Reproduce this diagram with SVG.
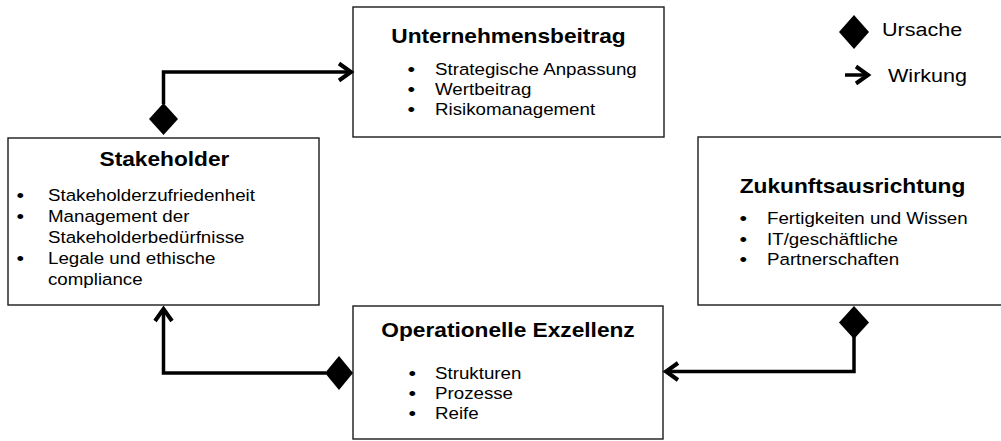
<svg xmlns="http://www.w3.org/2000/svg" width="1001" height="441" viewBox="0 0 1001 441">
  <style>
    .box { fill: #ffffff; stroke: #1a1a1a; stroke-width: 1.4; }
    .title { font-family: "Liberation Sans", Arial, sans-serif; font-size: 20px; font-weight: bold; fill: #000; text-anchor: middle; }
    .item { font-family: "Liberation Sans", Arial, sans-serif; font-size: 16.5px; fill: #000; }
    .dot { font-family: "Liberation Sans", Arial, sans-serif; font-size: 19px; fill: #000; }
    .legend { font-family: "Liberation Sans", Arial, sans-serif; font-size: 19px; fill: #000; }
    .wire { fill: none; stroke: #000; stroke-width: 3.5; stroke-linejoin: miter; }
    .cause { fill: #000; stroke: none; }
  </style>
  <defs>
    <marker id="effect" markerUnits="userSpaceOnUse" markerWidth="24" markerHeight="24" refX="0" refY="0" viewBox="-14 -12 16 24" orient="auto" overflow="visible">
      <path d="M-12,-8.5 L0,0 L-12,8.5" fill="none" stroke="#000" stroke-width="4"/>
    </marker>
  </defs>

  <rect width="1001" height="441" fill="#ffffff"/>

  <!-- Unternehmensbeitrag -->
  <g id="unternehmensbeitrag">
    <rect class="box" x="353" y="7" width="311" height="130"/>
    <g transform="scale(1.135 1)">
      <text class="title" x="448" y="43">Unternehmensbeitrag</text>
      <text class="dot" x="359" y="76">•</text>
      <text class="item" x="383.3" y="75">Strategische Anpassung</text>
      <text class="dot" x="359" y="96">•</text>
      <text class="item" x="383.3" y="95">Wertbeitrag</text>
      <text class="dot" x="359" y="116">•</text>
      <text class="item" x="383.3" y="115">Risikomanagement</text>
    </g>
  </g>

  <!-- Stakeholder -->
  <g id="stakeholder">
    <rect class="box" x="8" y="138" width="311" height="167"/>
    <g transform="scale(1.135 1)">
      <text class="title" x="144.9" y="166">Stakeholder</text>
      <text class="dot" x="14.5" y="202.5">•</text>
      <text class="item" x="42.3" y="201.5">Stakeholderzufriedenheit</text>
      <text class="dot" x="14.5" y="223.3">•</text>
      <text class="item" x="42.3" y="222.3">Management der</text>
      <text class="item" x="42.3" y="243.1">Stakeholderbedürfnisse</text>
      <text class="dot" x="14.5" y="264.9">•</text>
      <text class="item" x="42.3" y="263.9">Legale und ethische</text>
      <text class="item" x="42.3" y="284.7">compliance</text>
    </g>
  </g>

  <!-- Zukunftsausrichtung -->
  <g id="zukunftsausrichtung">
    <rect class="box" x="698" y="137" width="310" height="168"/>
    <g transform="scale(1.135 1)">
      <text class="title" x="751.1" y="193">Zukunftsausrichtung</text>
      <text class="dot" x="651.5" y="225">•</text>
      <text class="item" x="675.8" y="224">Fertigkeiten und Wissen</text>
      <text class="dot" x="651.5" y="245.7">•</text>
      <text class="item" x="675.8" y="244.7">IT/geschäftliche</text>
      <text class="dot" x="651.5" y="266.4">•</text>
      <text class="item" x="675.8" y="265.4">Partnerschaften</text>
    </g>
  </g>

  <!-- Operationelle Exzellenz -->
  <g id="operationelle-exzellenz">
    <rect class="box" x="353" y="306" width="310" height="133"/>
    <g transform="scale(1.135 1)">
      <text class="title" x="447.6" y="337">Operationelle Exzellenz</text>
      <text class="dot" x="359.9" y="380">•</text>
      <text class="item" x="383.3" y="379">Strukturen</text>
      <text class="dot" x="359.9" y="400">•</text>
      <text class="item" x="383.3" y="399">Prozesse</text>
      <text class="dot" x="359.9" y="420">•</text>
      <text class="item" x="383.3" y="419">Reife</text>
    </g>
  </g>

  <!-- Cause/effect links -->
  <g id="connectors">
    <path class="wire" d="M163.5,104 V72 H351" marker-end="url(#effect)"/>
    <polygon class="cause" points="163.5,103 178,119 163.5,135 149,119"/>

    <path class="wire" d="M326,373 H163.5 V309" marker-end="url(#effect)"/>
    <polygon class="cause" points="325,373 339,356 353,373 339,390"/>

    <path class="wire" d="M854,337 V371.5 H666" marker-end="url(#effect)"/>
    <polygon class="cause" points="854,306 869,322.5 854,339 839,322.5"/>
  </g>

  <!-- Legend -->
  <g id="legend">
    <polygon class="cause" points="854,15 869,32 854,49 839,32"/>
    <path class="wire" d="M845,75 H868" marker-end="url(#effect)" style="stroke-width:3.5"/>
    <g transform="scale(1.135 1)">
      <text class="legend" x="777.1" y="36">Ursache</text>
      <text class="legend" x="782.4" y="82">Wirkung</text>
    </g>
  </g>
</svg>
